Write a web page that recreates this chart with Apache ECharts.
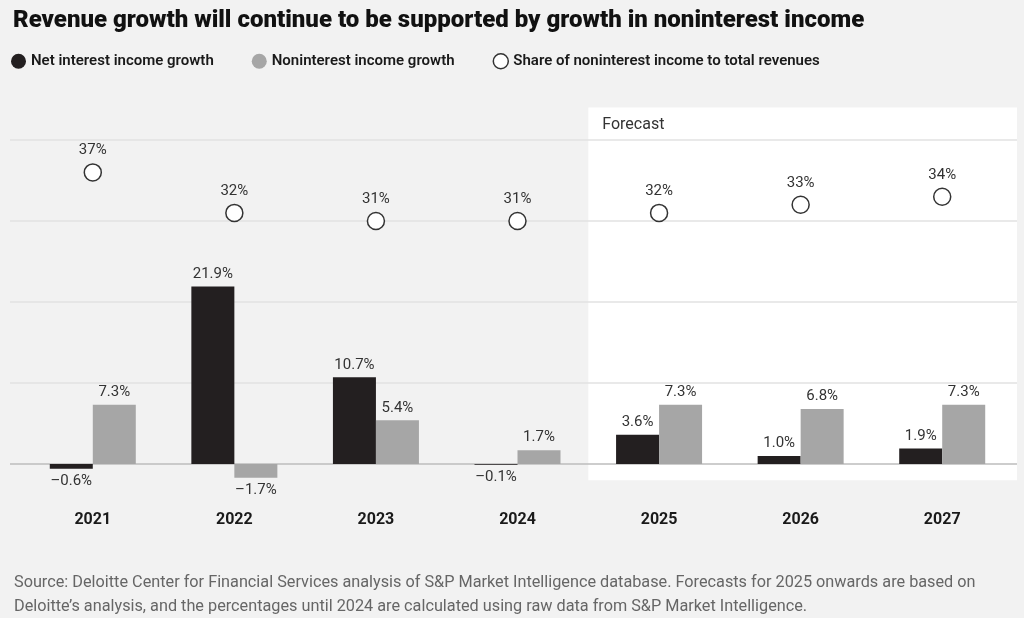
<!DOCTYPE html>
<html><head><meta charset="utf-8">
<script src="https://cdn.jsdelivr.net/npm/echarts@6/dist/echarts.min.js"></script>
<style>html,body{margin:0;padding:0;background:#f2f2f2;}#c{width:1024px;height:618px;}</style>
</head><body><div id="c"></div>
<script>
const years = ['2021','2022','2023','2024','2025','2026','2027'];
const netInterest = [-0.6, 21.9, 10.7, -0.1, 3.6, 1.0, 1.9];
const nonInterest = [7.3, -1.7, 5.4, 1.7, 7.3, 6.8, 7.3];
const shareNonInterest = [37, 32, 31, 31, 32, 33, 34];
const gridValues = [10, 20, 30, 40];
const forecastStart = '2025';
const seriesNames = ['Net interest income growth','Noninterest income growth','Share of noninterest income to total revenues'];

const FONT = 'Roboto';
const gL = 22, gR = 11, oL = 10, oR = 7, W = 1024, gTop = 59, gBottom = 73, H = 618;
const yMin = -10, yMax = 50;
const catW = (W - gL - gR) / years.length;
const xmin = (oL - gL) / catW - 0.5;
const xmax = (W - oR - gL) / catW - 0.5;
const fIdx = years.indexOf(forecastStart) - 0.5;
const pxPerUnit = (H - gTop - gBottom) / (yMax - yMin);
const zeroOffset = -(0 - yMin) * pxPerUnit;

function fmt(v){ return (v < 0 ? '\u2013' + Math.abs(v).toFixed(1) : v.toFixed(1)) + '%'; }
function barData(arr){
  return arr.map(v => ({value: v, label: {position: v < 0 ? 'bottom' : 'top'}}));
}
const labelStyle = {show: true, formatter: p => fmt(p.value), fontFamily: FONT, fontSize: 15, color: '#333', distance: 5};

const chart = echarts.init(document.getElementById('c'));
chart.setOption({
  backgroundColor: '#f2f2f2',
  animation: false,
  title: [
    {text: 'Revenue growth will continue to be supported by growth in noninterest income', left: 8, top: 4,
     textStyle: {fontFamily: FONT, fontWeight: 900, fontSize: 24, color: '#111'}},
    {text: 'Source: Deloitte Center for Financial Services analysis of S&P Market Intelligence database. Forecasts for 2025 onwards are based on\nDeloitte\u2019s analysis, and the percentages until 2024 are calculated using raw data from S&P Market Intelligence.',
     left: 9, top: 566, textStyle: {fontFamily: FONT, fontWeight: 'normal', fontSize: 16.25, lineHeight: 24, color: '#666'}}
  ],
  legend: {
    left: 6, top: 48, itemWidth: 15, itemHeight: 15, itemGap: 38,
    textStyle: {fontFamily: FONT, fontWeight: 600, fontSize: 15, color: '#1a1a1a'},
    data: [
      {name: seriesNames[0], icon: 'circle'},
      {name: seriesNames[1], icon: 'circle'},
      {name: seriesNames[2], icon: 'circle', itemStyle: {color: '#fff', borderColor: '#333', borderWidth: 1.5}}
    ]
  },
  grid: [
    {left: gL, right: gR, top: gTop, bottom: gBottom},
    {left: oL, right: oR, top: gTop, bottom: gBottom}
  ],
  xAxis: [
    {type: 'category', data: years, gridIndex: 0, offset: zeroOffset, axisLine: {show: false}, axisTick: {show: false},
     axisLabel: {margin: 48, fontFamily: FONT, fontWeight: 'bold', fontSize: 16, color: '#1a1a1a'}},
    {type: 'value', gridIndex: 1, min: xmin, max: xmax, show: false}
  ],
  yAxis: [
    {type: 'value', gridIndex: 0, min: yMin, max: yMax, show: false, splitLine: {show: false}},
    {type: 'value', gridIndex: 0, min: yMin + 1, max: yMax + 1, show: false, splitLine: {show: false}},
    {type: 'value', gridIndex: 1, min: yMin, max: yMax, show: false, splitLine: {show: false}}
  ],
  series: [
    {type: 'line', xAxisIndex: 1, yAxisIndex: 2, data: [], z: 0, silent: true,
     markArea: {silent: true, z: 0, itemStyle: {color: '#ffffff'},
       label: {show: true, position: 'insideTopLeft', offset: [5, 0], distance: 9, fontFamily: FONT, fontSize: 16, color: '#333'},
       data: [[{name: 'Forecast', xAxis: fIdx, yAxis: -2}, {xAxis: xmax, yAxis: 44}]]}},
    {type: 'line', xAxisIndex: 1, yAxisIndex: 2, data: [], z: 1, silent: true,
     markLine: {silent: true, z: 1, symbol: 'none', label: {show: false},
       lineStyle: {color: '#e2e2e2', width: 1.5, type: 'solid'},
       data: gridValues.map(v => ({yAxis: v})).concat([{yAxis: 0, lineStyle: {color: '#bdbdbd', width: 1.5, type: 'solid'}}])}},
    {name: seriesNames[0], type: 'bar', xAxisIndex: 0, yAxisIndex: 0, data: barData(netInterest), z: 2,
     barWidth: 43, barGap: '0%', itemStyle: {color: '#231f20'}, label: labelStyle},
    {name: seriesNames[1], type: 'bar', xAxisIndex: 0, yAxisIndex: 0, data: barData(nonInterest), z: 2,
     barWidth: 43, barGap: '0%', itemStyle: {color: '#a6a6a6'}, label: labelStyle},
    {name: seriesNames[2], type: 'scatter', xAxisIndex: 0, yAxisIndex: 1, data: shareNonInterest, z: 3,
     symbol: 'circle', symbolSize: 17, itemStyle: {color: '#fff', borderColor: '#333', borderWidth: 1.5, opacity: 1},
     label: {show: true, position: 'top', distance: 5, formatter: p => p.value + '%', fontFamily: FONT, fontSize: 15, color: '#333'}}
  ]
});
</script></body></html>
